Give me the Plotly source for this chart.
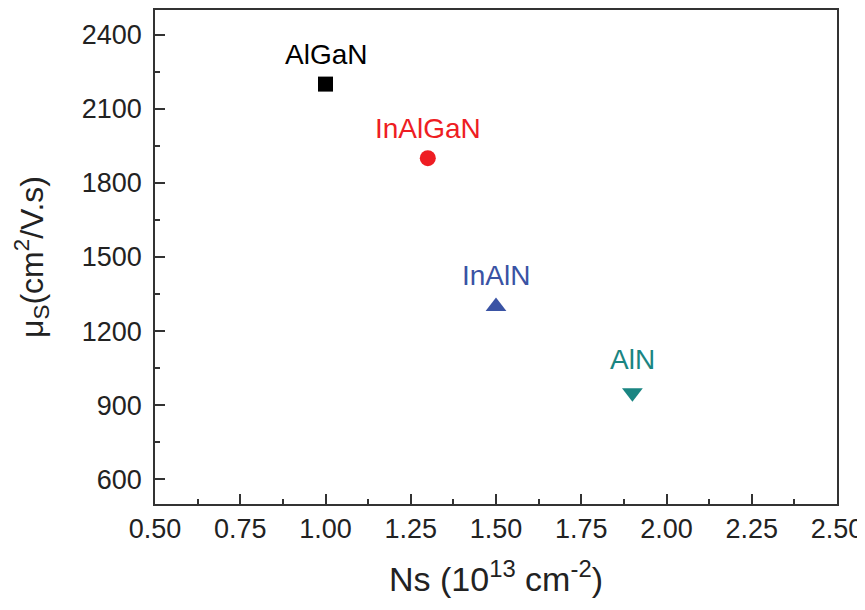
import plotly.graph_objects as go

materials = ["AlGaN", "InAlGaN", "InAlN", "AlN"]
ns_values = [1.0, 1.3, 1.5, 1.9]
mobility = [2200, 1900, 1300, 950]
colors = ["#000000", "#ee1d23", "#3a53a4", "#1a8582"]
symbols = ["square", "circle", "triangle-up", "triangle-down"]
sizes = [15, 16, 18, 18]
label_shift = [30, 30, 31, 33]

FONT = "Liberation Sans, Arial"

fig = go.Figure()
for m, x, y, c, s, sz, sh in zip(materials, ns_values, mobility, colors, symbols, sizes, label_shift):
    fig.add_trace(go.Scatter(
        x=[x], y=[y], mode="markers", name=m,
        marker=dict(color=c, symbol=s, size=sz, line=dict(width=0)),
        showlegend=False,
    ))
    fig.add_annotation(x=x, y=y, text=m, showarrow=False, yshift=sh,
                       font=dict(color=c, size=28, family=FONT))

axis_common = dict(
    showline=True, linecolor="#333333", linewidth=1.6, mirror=True,
    ticks="inside", ticklen=10, tickwidth=1.5, tickcolor="#333333",
    showgrid=False, zeroline=False,
    tickfont=dict(size=27, color="#222222", family=FONT),
)

fig.update_layout(
    width=857, height=602,
    margin=dict(l=147, r=28, t=0, b=106),
    paper_bgcolor="white", plot_bgcolor="white",
    font=dict(family=FONT, color="#222222"),
    xaxis=dict(
        range=[0.5, 2.5], tickvals=[0.5, 0.75, 1.0, 1.25, 1.5, 1.75, 2.0, 2.25, 2.5],
        ticktext=["0.50", "0.75", "1.00", "1.25", "1.50", "1.75", "2.00", "2.25", "2.50"],
        minor=dict(ticks="inside", ticklen=5, tickwidth=1.5, tickcolor="#333333", dtick=0.125, tick0=0.5),
        title=dict(text="Ns (10<sup>13</sup> cm<sup>-2</sup>)", font=dict(size=34), standoff=24),
        **axis_common,
    ),
    yaxis=dict(
        range=[500, 2500], tickvals=[600, 900, 1200, 1500, 1800, 2100, 2400],
        minor=dict(ticks="inside", ticklen=5, tickwidth=1.5, tickcolor="#333333", dtick=150, tick0=450),
        ticklabelstandoff=6,
        title=dict(text="μ<sub>S</sub>(cm<sup>2</sup>/V.s)", font=dict(size=32), standoff=29),
        **axis_common,
    ),
)

fig.write_html("out.html")
